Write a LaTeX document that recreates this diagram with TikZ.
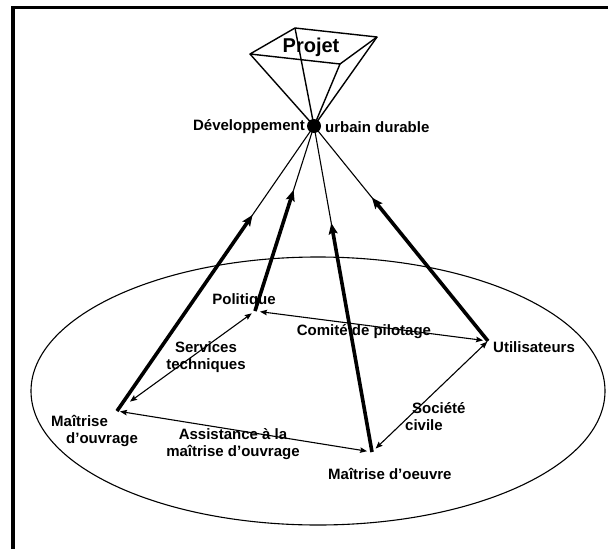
\documentclass[tikz,border=0pt]{standalone}
\usepackage{fontspec}
\setmainfont{Liberation Sans}
\usetikzlibrary{arrows.meta,calc}
\begin{document}
\begin{tikzpicture}[x=1pt,y=-1pt,
  lbl/.style={font=\bfseries\fontsize{15}{17}\selectfont, inner sep=0pt},
  thinline/.style={line width=1.1pt},
  thickarrow/.style={line width=3.6pt, -{Stealth[length=11pt,width=9pt,inset=2pt]}},
  dblarrow/.style={line width=1.1pt, {Stealth[length=7pt,width=5.5pt,inset=1pt]}-{Stealth[length=7pt,width=5.5pt,inset=1pt]}},
  pyr/.style={line width=1.4pt, line join=round}]
\useasboundingbox (0,0) rectangle (608,549);
% frame
\draw[line width=3.5pt] (13,549) -- (13,7.5) -- (608,7.5);
% ellipse
\draw[line width=1.1pt] (318,391) ellipse [x radius=287, y radius=134];
% key points
\coordinate (D) at (314,126);
\coordinate (L) at (250,54);
\coordinate (B) at (295,28);
\coordinate (R) at (377,37);
\coordinate (F) at (340,64);
\coordinate (MO) at (117,411);
\coordinate (Pol) at (255,311);
\coordinate (MOe) at (372,452);
\coordinate (Ut) at (488,341);
% pyramid
\draw[pyr] (L) -- (B) -- (R) -- (F) -- cycle;
\draw[pyr] (L) -- (D);
\draw[pyr] (B) -- (D);
\draw[pyr] (R) -- (D);
\draw[pyr] (F) -- (D);
\fill (D) circle (7);
\node[lbl, font=\bfseries\fontsize{20}{22}\selectfont] (projet) at (311,47) {Projet};
\node[lbl, anchor=east] (dev) at (305,127) {Développement};
\node[lbl, anchor=west] (urb) at (325,127) {urbain durable};
% lines to D
\foreach \p in {MO,Pol,MOe,Ut} { \draw[thinline] (\p) -- (D); }
\draw[thickarrow] (MO) -- ($(MO)!0.688!(D)$);
\draw[thickarrow] (Pol) -- ($(Pol)!0.654!(D)$);
\draw[thickarrow] (MOe) -- ($(MOe)!0.702!(D)$);
\draw[thickarrow] (Ut) -- ($(Ut)!0.667!(D)$);
% double arrows
\draw[dblarrow, shorten <=16pt, shorten >=4pt] (MO) -- (Pol);
\draw[dblarrow, shorten <=5pt, shorten >=5pt] (Pol) -- (Ut);
\draw[dblarrow, shorten <=3pt, shorten >=5pt] (MO) -- (MOe);
\draw[dblarrow, shorten <=1pt, shorten >=5pt] (Ut) -- (MOe);
% labels
\node[lbl] (lpol) at (244,301) {Politique};
\node[lbl] (lcom) at (364,332) {Comité de pilotage};
\node[lbl, anchor=west] (lut) at (493,347) {Utilisateurs};
\node[lbl, align=center] (lserv) at (206,357) {Services\\techniques};
\node[lbl, align=left, anchor=west] (lmo) at (51,431) {Maîtrise\\\hspace*{15pt}d’ouvrage};
\node[lbl, align=center] (lass) at (233,444) {Assistance à la\\maîtrise d’ouvrage};
\node[lbl, align=left, anchor=west] (lsoc) at (405,417) {\hspace*{7pt}Société\\civile};
\node[lbl, anchor=west] (lmoe) at (328,474) {Maîtrise d’oeuvre};
\end{tikzpicture}
\end{document}
